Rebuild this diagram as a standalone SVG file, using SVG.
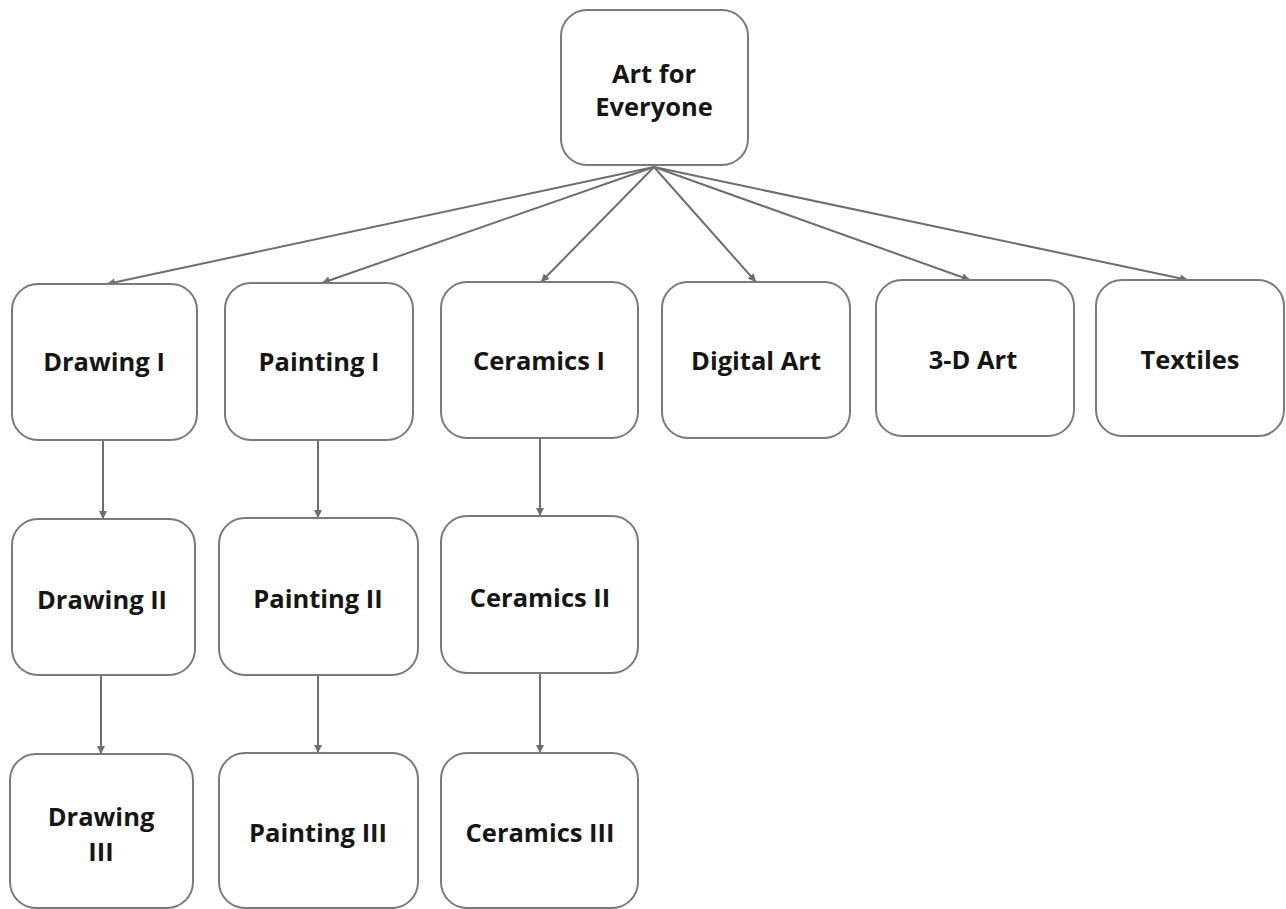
<svg xmlns="http://www.w3.org/2000/svg" width="1286" height="909" viewBox="0 0 1286 909">
<style>
.box{fill:#fff;stroke:#7a7a7a;stroke-width:2}
.lbl{font-family:"Open Sans","Liberation Sans",sans-serif;font-weight:bold;font-size:25.5px;fill:#161616;text-anchor:middle;dominant-baseline:central}
.edge{stroke:#6e6e6e;stroke-width:2;fill:none;marker-end:url(#arr)}
</style>
<defs>
<marker id="arr" viewBox="0 0 10 10" refX="10" refY="5" markerWidth="9" markerHeight="8" markerUnits="userSpaceOnUse" orient="auto">
<path d="M0,0 L10,5 L0,10 z" fill="#6e6e6e"/>
</marker>
</defs>
<rect width="1286" height="909" fill="#fff"/>
<g id="connectors">
<line class="edge" x1="654" y1="167" x2="107" y2="284"/>
<line class="edge" x1="654" y1="167" x2="322" y2="283"/>
<line class="edge" x1="654" y1="167" x2="541" y2="282"/>
<line class="edge" x1="654" y1="167" x2="756" y2="282"/>
<line class="edge" x1="654" y1="167" x2="970" y2="280"/>
<line class="edge" x1="654" y1="167" x2="1188" y2="280"/>
<line class="edge" x1="103" y1="440" x2="103" y2="519"/>
<line class="edge" x1="101" y1="675" x2="101" y2="754"/>
<line class="edge" x1="318" y1="440" x2="318" y2="518"/>
<line class="edge" x1="318" y1="675" x2="318" y2="753"/>
<line class="edge" x1="540" y1="438" x2="540" y2="516"/>
<line class="edge" x1="540" y1="673" x2="540" y2="753"/>
</g>
<g id="n-root"><rect class="box" x="561" y="10" width="187" height="155" rx="26"/><text class="lbl" x="654" y="73">Art for</text><text class="lbl" x="654" y="106">Everyone</text></g>
<g id="n-drawing1"><rect class="box" x="12" y="284" width="185" height="156" rx="26"/><text class="lbl" x="104" y="361">Drawing I</text></g>
<g id="n-painting1"><rect class="box" x="225" y="283" width="188" height="157" rx="26"/><text class="lbl" x="319" y="361">Painting I</text></g>
<g id="n-ceramics1"><rect class="box" x="441" y="282" width="197" height="156" rx="26"/><text class="lbl" x="539" y="360">Ceramics I</text></g>
<g id="n-digital"><rect class="box" x="662" y="282" width="188" height="156" rx="26"/><text class="lbl" x="756" y="360">Digital Art</text></g>
<g id="n-3d"><rect class="box" x="876" y="280" width="198" height="156" rx="26"/><text class="lbl" x="973" y="359">3-D Art</text></g>
<g id="n-textiles"><rect class="box" x="1096" y="280" width="188" height="156" rx="26"/><text class="lbl" x="1190" y="359">Textiles</text></g>
<g id="n-drawing2"><rect class="box" x="12" y="519" width="183" height="156" rx="26"/><text class="lbl" x="102" y="599">Drawing II</text></g>
<g id="n-painting2"><rect class="box" x="219" y="518" width="199" height="157" rx="26"/><text class="lbl" x="318" y="598">Painting II</text></g>
<g id="n-ceramics2"><rect class="box" x="441" y="516" width="197" height="157" rx="26"/><text class="lbl" x="540" y="597">Ceramics II</text></g>
<g id="n-drawing3"><rect class="box" x="10" y="754" width="183" height="154" rx="26"/><text class="lbl" x="101" y="816">Drawing</text><text class="lbl" x="101" y="851">III</text></g>
<g id="n-painting3"><rect class="box" x="219" y="753" width="199" height="155" rx="26"/><text class="lbl" x="318" y="832">Painting III</text></g>
<g id="n-ceramics3"><rect class="box" x="441" y="753" width="197" height="155" rx="26"/><text class="lbl" x="540" y="832">Ceramics III</text></g>
</svg>
